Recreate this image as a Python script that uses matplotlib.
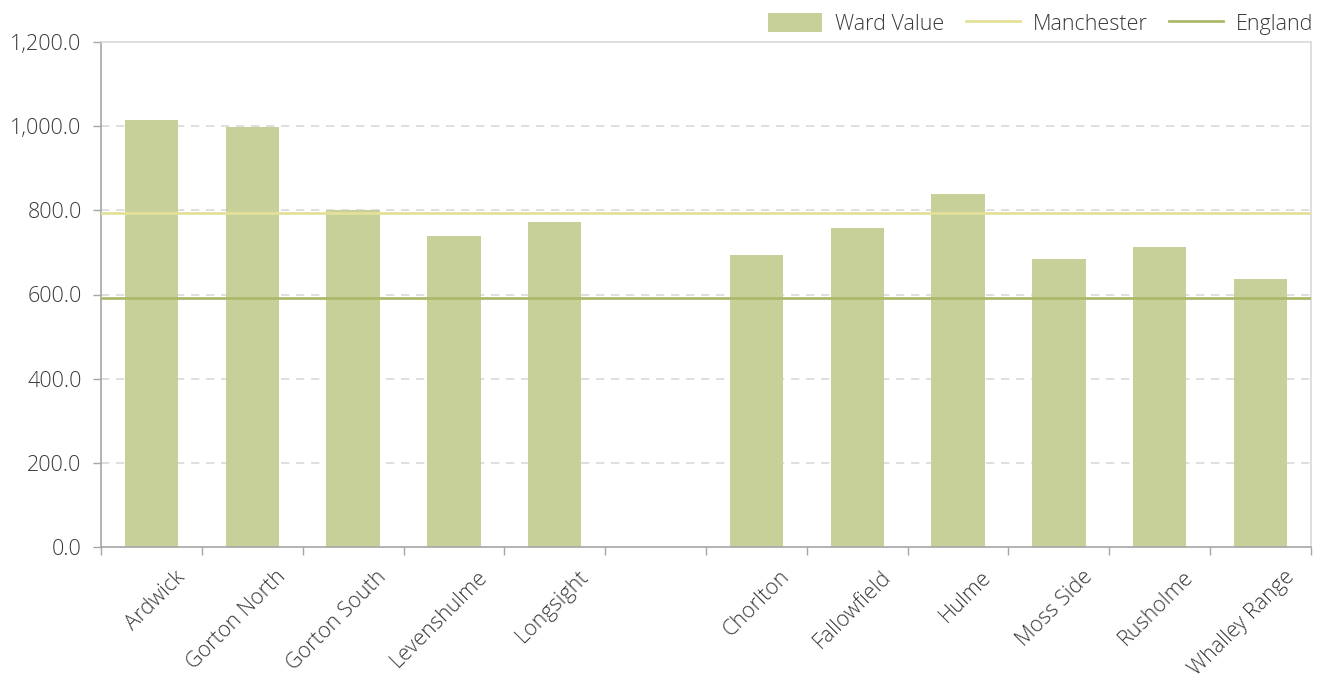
import numpy as np
import matplotlib
matplotlib.use("Agg")
import matplotlib.pyplot as plt
import matplotlib.transforms as mtransforms
from matplotlib.patches import Patch
from matplotlib.lines import Line2D

plt.rcParams['font.family'] = ['Open Sans', 'DejaVu Sans']

# data
wards = ["Ardwick", "Gorton North", "Gorton South", "Levenshulme", "Longsight", "",
         "Chorlton", "Fallowfield", "Hulme", "Moss Side", "Rusholme", "Whalley Range"]
ward_value = [1015, 998, 801, 739, 772, np.nan, 694, 758, 839, 684, 713, 637]
manchester = 794
england = 592

bar_col = "#c8d09a"
man_col = "#e3e09a"
eng_col = "#acb96a"
txt_col = "#3a3a3a"
fs = 15.5

fig = plt.figure(figsize=(13.28, 6.86), dpi=100)
ax = fig.add_axes([101/1328, 139/686, 1210/1328, 505/686])

x = np.arange(len(wards))
ax.bar(x, ward_value, width=0.53, color=bar_col, zorder=2)
ax.axhline(manchester, color=man_col, lw=2, zorder=3)
ax.axhline(england, color=eng_col, lw=2, zorder=3)

ax.set_xlim(-0.5, len(wards) - 0.5)
ax.set_ylim(0, 1200)
ax.set_yticks(np.arange(0, 1201, 200))
ax.set_yticklabels([f"{v:,.1f}" for v in np.arange(0, 1201, 200)])
for v in range(200, 1200, 200):
    ax.axhline(v, color="#d9d9d9", lw=1.2, ls=(0, (5, 4)), zorder=1)

# category boundary ticks
ax.set_xticks(np.arange(-0.5, len(wards), 1.0), minor=False)
ax.set_xticklabels([])
ax.tick_params(axis='x', length=6, color="#a6a6a6", width=1)
ax.set_xticks(x, minor=True)
ax.set_xticklabels(wards, minor=True, rotation=45, ha='right', va='top',
                   rotation_mode='anchor', fontsize=fs, color=txt_col,
                   fontweight='light')
ax.tick_params(axis='x', which='minor', length=0, pad=14)
off = mtransforms.ScaledTranslation(23/100, 0, fig.dpi_scale_trans)
for lab in ax.get_xticklabels(minor=True):
    lab.set_transform(lab.get_transform() + off)

ax.tick_params(axis='y', length=6, color="#a6a6a6", width=1, labelsize=fs,
               labelcolor=txt_col, pad=8)
for lab in ax.get_yticklabels():
    lab.set_fontweight('light')

ax.spines['left'].set_color("#a6a6a6")
ax.spines['bottom'].set_color("#a6a6a6")
ax.spines['top'].set_color("#d9d9d9")
ax.spines['right'].set_color("#d9d9d9")
for s in ax.spines.values():
    s.set_linewidth(1.2)

handles = [Patch(facecolor=bar_col, edgecolor='none'),
           Line2D([], [], color=man_col, lw=2),
           Line2D([], [], color=eng_col, lw=2)]
leg = fig.legend(handles, ["Ward Value", "Manchester", "England"], ncol=3,
                 loc='upper right', bbox_to_anchor=(1326/1328, 1.0), frameon=False,
                 fontsize=fs, handlelength=2.5, handleheight=1.0,
                 columnspacing=1.0, handletextpad=0.6, borderaxespad=0.2)
for t in leg.get_texts():
    t.set_color(txt_col)
    t.set_fontweight('light')

fig.savefig("out.png", dpi=100)
